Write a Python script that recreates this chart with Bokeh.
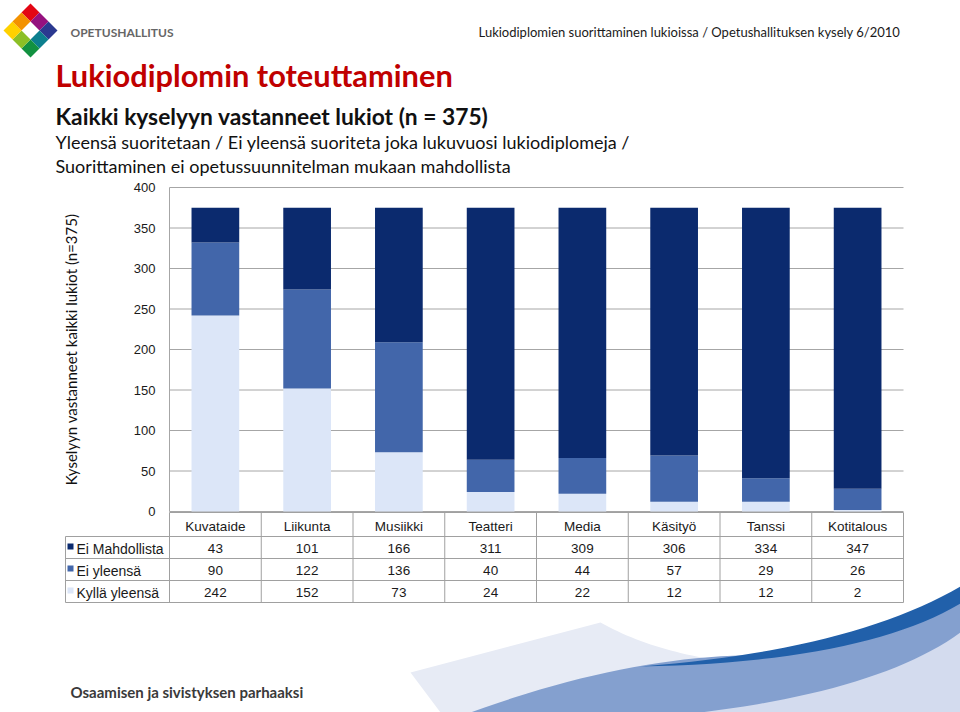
import math
from bokeh.plotting import figure
from bokeh.models import Range1d, ColumnDataSource
from bokeh.core.properties import value
from bokeh.embed import file_html
from bokeh.resources import INLINE

# ---------------- data ----------------
categories = ["Kuvataide", "Liikunta", "Musiikki", "Teatteri",
              "Media", "Käsityö", "Tanssi", "Kotitalous"]
ei_mahdollista = [43, 101, 166, 311, 309, 306, 334, 347]
ei_yleensa = [90, 122, 136, 40, 44, 57, 29, 26]
kylla_yleensa = [242, 152, 73, 24, 22, 12, 12, 2]
series_labels = ["Ei Mahdollista", "Ei yleensä", "Kyllä yleensä"]
y_ticks = [0, 50, 100, 150, 200, 250, 300, 350, 400]

title_text = "Lukiodiplomin toteuttaminen"
subtitle_text = "Kaikki kyselyyn vastanneet lukiot (n = 375)"
desc_line1 = "Yleensä suoritetaan / Ei yleensä suoriteta joka lukuvuosi lukiodiplomeja /"
desc_line2 = "Suorittaminen ei opetussuunnitelman mukaan mahdollista"
source_note = "Lukiodiplomien suorittaminen lukioissa  / Opetushallituksen kysely 6/2010"
org_name = "OPETUSHALLITUS"
slogan = "Osaamisen ja sivistyksen parhaaksi"
y_label = "Kyselyyn vastanneet kaikki lukiot (n=375)"

# ---------------- styles / layout ----------------
DARK, MID, LIGHT = "#0B2A6E", "#4266AA", "#DCE6F8"
series_colors = [DARK, MID, LIGHT]
GRID = "#A6A6A6"
TABLE_LINE = "#A0A0A0"
TXT = "#1a1a1a"

W, H = 960, 712
# plot area (page px): left, right, top(=400), bottom(=0)
AL, AR, AT, AB = 169, 903, 187, 511
Y_MAX = 400
n = len(categories)

# value scale: maps 0..400 onto AB..AT over a frame that covers the whole canvas
ppu = (AB - AT) / Y_MAX
vy_range = Range1d(start=-(H - AB) / ppu, end=AB / ppu)
# category scale: each category one unit wide between AL and AR
ppc = (AR - AL) / n
cx_range = Range1d(start=-AL / ppc, end=(W - AL) / ppc)

p = figure(width=W, height=H, x_range=Range1d(0, W), y_range=Range1d(H, 0),
           x_axis_location=None, y_axis_location=None,
           output_backend="svg", toolbar_location=None, min_border=0)
p.title = None
p.outline_line_color = None
p.grid.visible = False
p.background_fill_color = "white"
p.border_fill_color = "white"
p.extra_x_ranges = {"cx": cx_range}
p.extra_y_ranges = {"vy": vy_range}

F_UI = value("Lato")
F_CH = value("Liberation Sans")


def txt(x, y, text, font=F_UI, size="14px", style="normal", color=TXT, align="left",
        baseline="alphabetic", angle=0.0, **kw):
    p.text(x=x, y=y, text=text, text_font=font, text_font_size=value(size),
           text_font_style=style, text_color=color, text_align=align,
           text_baseline=baseline, angle=angle, **kw)


def qbez(a, b, c, k=24):
    pts = []
    for i in range(k + 1):
        t = i / k
        pts.append(((1 - t) ** 2 * a[0] + 2 * (1 - t) * t * b[0] + t ** 2 * c[0],
                    (1 - t) ** 2 * a[1] + 2 * (1 - t) * t * b[1] + t ** 2 * c[1]))
    return pts


def shape(points, fill):
    p.patch([q[0] for q in points], [q[1] for q in points], fill_color=fill, line_color=None)


# ---------------- decorative swoosh (bottom right) ----------------
shape([(410, 672), (600, 622)] + qbez((600, 622), (650, 650), (720, 660))
      + [(560, 685), (480, 712), (440, 712)], "#E7EBF5")
shape(qbez((470, 712), (640, 650), (780, 655)) + qbez((780, 655), (900, 640), (960, 588))
      + [(960, 640)] + qbez((960, 640), (860, 700), (720, 712)), "#84A0CF")
shape([(700, 712)] + qbez((700, 712), (880, 690), (960, 632)) + [(960, 712)], "#D3DBEE")
shape([(640, 666)] + qbez((640, 666), (850, 650), (960, 586)) + [(960, 603)]
      + qbez((960, 603), (860, 662), (640, 666)), "#2160AA")

# ---------------- logo ----------------
logo_cells = {(0, 0): "#E30613", (0, 1): "#95117F", (0, 2): "#2B3990", (1, 2): "#0C7F8E",
              (2, 2): "#129140", (2, 1): "#8CBF26", (2, 0): "#FFD100", (1, 0): "#F39200"}
for (i, j), col in logo_cells.items():
    cx = 30 + (j - i) * 9
    cy = 30 + (i + j - 2) * 9
    shape([(cx, cy - 9), (cx + 9, cy), (cx, cy + 9), (cx - 9, cy)], col)

# ---------------- header texts ----------------
txt([70], [32], [org_name], size="12px", style="bold", color="#666666")
txt([903], [31], [source_note], size="13px", color="#1a1a1a", align="right")
txt([55], [75], [title_text], size="30.8px", style="bold", color="#C00000")
txt([55], [115], [subtitle_text], size="22.8px", style="bold", color="#111111")
txt([55], [141], [desc_line1], size="18px", color="#111111")
txt([55], [165], [desc_line2], size="18px", color="#111111")
txt([70], [691], [slogan], size="15px", style="bold", color="#3a3a3a")

# ---------------- value axis (grid, line, tick labels) ----------------
p.segment(x0=[0] * len(y_ticks), x1=[n] * len(y_ticks), y0=y_ticks, y1=y_ticks,
          line_color=GRID, line_width=1, x_range_name="cx", y_range_name="vy")
p.segment(x0=[0], x1=[0], y0=[0], y1=[Y_MAX], line_color=GRID, line_width=1,
          x_range_name="cx", y_range_name="vy")
txt([AL - 14] * len(y_ticks), y_ticks, [str(t) for t in y_ticks], font=F_CH, size="13px",
    align="right", baseline="middle", y_range_name="vy")
txt([70], [(AT + AB) / 2], [y_label], size="15px", color="#111111", align="center",
    baseline="middle", angle=math.pi / 2)

# ---------------- stacked bars ----------------
src = ColumnDataSource(dict(pos=[i + 0.5 for i in range(n)], cat=categories,
                            kylla=kylla_yleensa, eiyl=ei_yleensa, eimahd=ei_mahdollista))
p.vbar_stack(["kylla", "eiyl", "eimahd"], x="pos", width=0.52, source=src,
             color=[LIGHT, MID, DARK], line_color=None,
             x_range_name="cx", y_range_name="vy")

# ---------------- data table ----------------
row_lines = [512, 536, 558, 580, 602]
row_centers = [548, 570, 592]
header_center = 525.5

# horizontal lines
p.segment(x0=[0], x1=[n], y0=[row_lines[0]], y1=[row_lines[0]], line_color=TABLE_LINE,
          x_range_name="cx")
p.segment(x0=[65] * 4, x1=[AR] * 4, y0=row_lines[1:], y1=row_lines[1:], line_color=TABLE_LINE)
# vertical lines
p.segment(x0=[65], x1=[65], y0=[row_lines[1]], y1=[row_lines[-1]], line_color=TABLE_LINE)
p.segment(x0=list(range(n + 1)), x1=list(range(n + 1)), y0=[row_lines[0]] * (n + 1),
          y1=[row_lines[-1]] * (n + 1), line_color=TABLE_LINE, x_range_name="cx")

# header row
txt([i + 0.5 for i in range(n)], [header_center] * n, categories, font=F_CH, size="13.5px",
    align="center", baseline="middle", x_range_name="cx")

# value rows
series_values = [ei_mahdollista, ei_yleensa, kylla_yleensa]
for r, vals in enumerate(series_values):
    txt([i + 0.5 for i in range(n)], [row_centers[r]] * n, [str(v) for v in vals],
        font=F_CH, size="13.5px", align="center", baseline="middle", x_range_name="cx")

# row labels with legend keys
for r, (name, col) in enumerate(zip(series_labels, series_colors)):
    yc = row_centers[r]
    shape([(67, yc - 5), (73, yc - 5), (73, yc + 1), (67, yc + 1)], col)
    txt([76], [yc], [name], font=F_CH, size="14px", baseline="middle")

open("out.html", "w").write(file_html(p, INLINE))
